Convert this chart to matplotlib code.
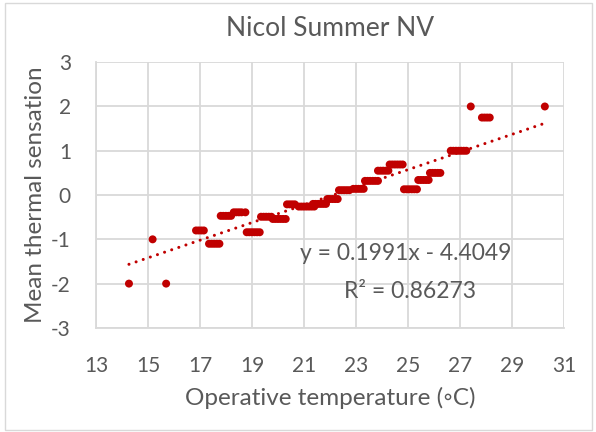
import numpy as np
import matplotlib
matplotlib.use("Agg")
import matplotlib.pyplot as plt
from matplotlib.patches import Rectangle

plt.rcParams['font.family'] = ['Lato', 'DejaVu Sans']
plt.rcParams['axes.unicode_minus'] = False

# mean thermal sensation vs operative temperature
# each group shares one sensation value
groups_x = [
    [14.27],
    [15.18],
    [15.70],
    [16.85, 16.95, 17.05, 17.15],
    [17.35, 17.45, 17.55, 17.65, 17.75],
    [17.80, 17.90, 18.00, 18.10, 18.20],
    [18.30, 18.40, 18.50, 18.60, 18.75],
    [18.80, 18.90, 19.00, 19.10, 19.20, 19.30],
    [19.35, 19.45, 19.55, 19.65, 19.75],
    [19.80, 19.90, 20.00, 20.10, 20.20, 20.30],
    [20.35, 20.45, 20.55, 20.65],
    [20.80, 20.90, 21.00, 21.10, 21.20, 21.30, 21.40],
    [21.35, 21.45, 21.55, 21.65, 21.75, 21.85],
    [21.90, 22.00, 22.10, 22.20, 22.30],
    [22.35, 22.45, 22.55, 22.65, 22.75],
    [22.90, 23.00, 23.10, 23.20, 23.30],
    [23.35, 23.45, 23.55, 23.65, 23.75, 23.85],
    [23.85, 23.95, 24.05, 24.15, 24.25],
    [24.30, 24.40, 24.50, 24.60, 24.70, 24.80],
    [24.85, 24.95, 25.05, 25.15, 25.25, 25.35],
    [25.40, 25.50, 25.60, 25.70, 25.80],
    [25.85, 25.95, 26.05, 26.15, 26.25],
    [26.65, 26.75, 26.85, 26.95, 27.05, 27.15, 27.25],
    [27.42],
    [27.85, 27.95, 28.05, 28.15],
    [30.27],
]
groups_y = [-2.0, -1.0, -2.0, -0.8, -1.1, -0.47, -0.39, -0.84, -0.49, -0.54,
            -0.21, -0.26, -0.2, -0.09, 0.11, 0.14, 0.32, 0.55, 0.69, 0.13,
            0.34, 0.5, 1.0, 2.0, 1.75, 2.0]

slope = 0.1991
intercept = -4.4049
r2 = 0.86273

x_ticks = [13, 15, 17, 19, 21, 23, 25, 27, 29, 31]
y_ticks = [-3, -2, -1, 0, 1, 2, 3]

red = '#C00000'
grey_text = '#595959'
grid_col = '#D9D9D9'

x = np.concatenate([np.array(g) for g in groups_x])
y = np.concatenate([np.full(len(g), v) for g, v in zip(groups_x, groups_y)])

fig = plt.figure(figsize=(5.96, 4.32), dpi=100)
ax = fig.add_axes([0.161, 0.241, 0.785, 0.615])

ax.scatter(x, y, s=33, color=red, edgecolors='none', zorder=3)

# trend line over data range
xl = np.array([x.min(), x.max()])
ax.plot(xl, slope * xl + intercept, color=red, lw=2.2,
        linestyle=(0, (0.01, 2.45)), dash_capstyle='round', zorder=4)

ax.set_xlim(13, 31)
ax.set_ylim(-3, 3)
ax.set_xticks(x_ticks)
ax.set_yticks(y_ticks)
ax.grid(True, color=grid_col, lw=1.3, zorder=0)
ax.set_axisbelow(True)
for s in ax.spines.values():
    s.set_visible(False)
for side in ['bottom', 'left']:
    ax.spines[side].set_visible(True)
    ax.spines[side].set_color(grid_col)
    ax.spines[side].set_linewidth(1.3)
ax.tick_params(length=0, labelsize=15, colors=grey_text)
ax.tick_params(axis='y', pad=18)
ax.tick_params(axis='x', pad=20)

ax.set_xlabel('Operative temperature (\u25e6C)', fontsize=17.5, color=grey_text, labelpad=8)
ax.set_ylabel('Mean thermal sensation', fontsize=17.5, color=grey_text, labelpad=4)
ax.set_title('Nicol Summer NV', fontsize=19, color=grey_text, pad=19)

ax.text(24.9, -1.31, 'y = 0.1991x - 4.4049', fontsize=16.5, color=grey_text,
        ha='center', va='center')
ax.text(25.1, -2.17, 'R\u00b2 = %.5f' % r2, fontsize=16.5, color=grey_text,
        ha='center', va='center')

fig.patches.append(Rectangle((5 / 596, 2 / 432), 587 / 596, 427 / 432,
                             transform=fig.transFigure, fill=False,
                             edgecolor=grid_col, lw=1.0))

fig.savefig('out.png', dpi=100)
